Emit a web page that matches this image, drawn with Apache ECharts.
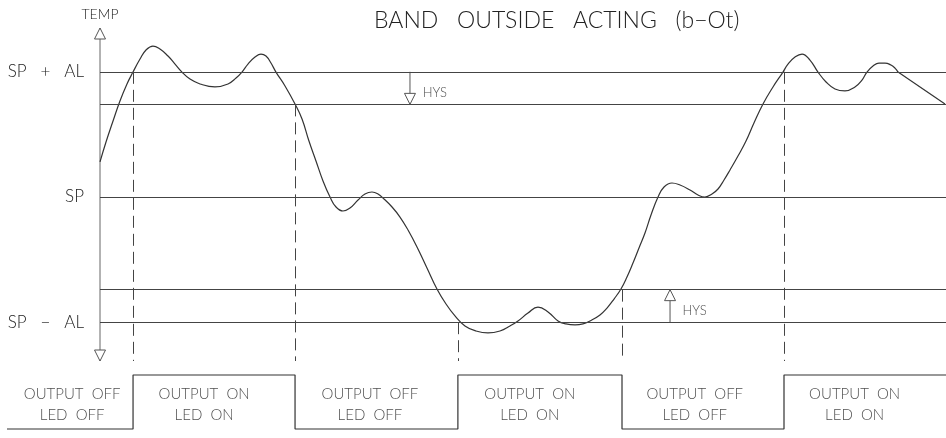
<!DOCTYPE html>
<html>
<head>
<meta charset="utf-8">
<script src="https://cdn.jsdelivr.net/npm/echarts@6/dist/echarts.min.js"></script>
<style>
  html, body { margin: 0; padding: 0; background: #fff; }
  #chart { width: 946px; height: 438px; }
</style>
</head>
<body>
<div id="chart"></div>
<script>
  // temperature scale: SP = 0, alarm band +-AL, hysteresis HYS
  const SP = 0
  const AL = 10
  const HYS = 2.6
  const levelLabels = ['SP   +   AL', 'SP', 'SP   −   AL']

  // temperature curve (time, temp)
  const curveTime = [0, 0.71, 1.54, 2.36, 3.19, 3.9, 4.73, 5.44, 6.26, 7.09, 8.04, 8.87, 9.69, 10.64, 11.82, 13.59,
    15.13, 16.08, 16.78, 17.49, 18.32, 19.03, 19.62, 20.21, 20.8, 21.87, 23.05, 23.88, 24.7, 25.53, 26.36, 27.19,
    27.9, 28.72, 29.55, 30.5, 31.32, 32.15, 32.86, 33.57, 34.52, 35.46, 36.41, 37.47, 38.65, 39.83, 40.9, 41.96,
    43.14, 44.44, 45.86, 47.28, 48.46, 49.41, 50.59, 51.77, 52.96, 54.14, 55.08, 56.15, 57.09, 57.92, 59.1, 59.93,
    60.76, 61.58, 62.29, 63.0, 63.71, 64.42, 65.13, 65.96, 66.67, 67.61, 68.56, 69.74, 70.69, 71.51, 72.34, 73.05,
    73.76, 74.47, 75.41, 76.36, 77.3, 78.37, 79.55, 80.73, 81.32, 82.15, 82.98, 83.92, 84.87, 85.82, 86.88, 88.06,
    89.24, 90.07, 90.66, 91.37, 92.08, 92.79, 93.5, 93.97, 94.33]
  const curveTemp = [2.8, 4.39, 6.07, 7.67, 9.03, 9.98, 11.02, 11.74, 12.06, 11.82, 11.26, 10.62, 9.98, 9.42, 9.03, 8.79,
    9.03, 9.5, 9.98, 10.62, 11.18, 11.42, 11.26, 10.7, 9.98, 8.87, 7.43, 6.23, 4.47, 2.88, 1.28, 0,
    -0.8, -1.12, -0.88, -0.24, 0.24, 0.4, 0.24, -0.16, -0.8, -1.6, -2.64, -3.99, -5.67, -7.35, -8.55, -9.5,
    -10.3, -10.7, -10.86, -10.7, -10.3, -9.9, -9.27, -8.79, -9.18, -9.9, -10.14, -10.22, -10.14, -9.9, -9.42, -8.87,
    -8.15, -7.35, -6.39, -5.27, -4.07, -2.88, -1.44, 0, 0.8, 1.12, 0.96, 0.56, 0.16, 0, 0.24, 0.64,
    1.36, 2.16, 3.27, 4.47, 5.91, 7.43, 8.79, 9.98, 10.62, 11.18, 11.42, 10.94, 9.98, 9.19, 8.63, 8.47,
    8.79, 9.34, 9.98, 10.46, 10.7, 10.7, 10.54, 10.3, 9.98]
  // straight tail at the right end
  const tailTime = [94.33, 99.88]
  const tailTemp = [9.98, 7.43]

  // output switching
  const switchTimes = [3.9, 23.05, 42.3, 61.7, 80.85]
  const switchLevels = [AL, AL - HYS, -AL, -AL + HYS, AL]
  const stateTimes = [-11, 3.9, 23.05, 42.3, 61.7, 80.85, 100]
  const stateValues = [0, 1, 0, 1, 0, 1, 1]
  const outputLabels = ['OUTPUT  OFF\nLED  OFF', 'OUTPUT  ON\nLED  ON', 'OUTPUT  OFF\nLED  OFF',
    'OUTPUT  ON\nLED  ON', 'OUTPUT  OFF\nLED  OFF', 'OUTPUT  ON\nLED  ON']
  const labelTimes = [-3.3, 12.3, 31.9, 50.8, 70.3, 89.2]

  // hysteresis markers
  const hysTimes = [36.64, 67.38]

  const FONT = 'Lato'
  const INK = '#222'
  const LINE = '#444'
  const yMin = -13.1
  const yMax = 13.5

  let myChart = echarts.init(document.getElementById('chart'), null, { renderer: 'canvas' })

  let tri = (coord, down) => ({
    coord: coord,
    symbolRotate: down ? 180 : 0,
    symbolOffset: [0, down ? -5.5 : 5.5]
  })

  let triStyle = {
    symbol: 'triangle',
    symbolSize: [11, 11],
    itemStyle: { color: '#fff', borderColor: '#555', borderWidth: 1 },
    label: { show: false },
    silent: true,
    animation: false
  }

  let option = {
    animation: false,
    title: {
      text: 'BAND   OUTSIDE   ACTING   (b−Ot)',
      left: 369,
      top: 4,
      textStyle: { fontFamily: FONT, fontWeight: 300, fontSize: 23, color: INK }
    },
    grid: [
      { left: 100, right: 0, top: 28, height: 333 },
      { left: 7, right: 0, top: 369.6, height: 64.8 }
    ],
    xAxis: [
      { gridIndex: 0, type: 'value', min: 0, max: 100, show: false },
      { gridIndex: 1, type: 'value', min: -11, max: 100, show: false }
    ],
    yAxis: [
      {
        gridIndex: 0,
        type: 'value',
        min: yMin,
        max: yMax,
        name: 'TEMP',
        nameLocation: 'end',
        nameGap: 7,
        nameTextStyle: { fontFamily: FONT, fontWeight: 300, fontSize: 14, color: INK, align: 'center' },
        axisLine: { show: false },
        axisTick: { show: false },
        splitLine: { show: false },
        axisLabel: {
          customValues: [AL, SP, -AL],
          margin: 16,
          fontFamily: FONT,
          fontWeight: 300,
          fontSize: 17,
          color: INK,
          formatter: (v) => v === AL ? levelLabels[0] : (v === SP ? levelLabels[1] : levelLabels[2])
        }
      },
      { gridIndex: 1, type: 'value', min: -0.1, max: 1.1, show: false }
    ],
    series: [
      {
        // vertical temperature axis with open arrow heads
        name: 'axis',
        type: 'line',
        xAxisIndex: 0,
        yAxisIndex: 0,
        clip: false,
        showSymbol: false,
        data: [[0, yMin], [0, yMax]],
        lineStyle: { color: '#666', width: 1 },
        markPoint: Object.assign({ data: [tri([0, yMax], false), tri([0, yMin], true)] }, triStyle),
        markLine: {
          silent: true,
          symbol: 'none',
          label: { show: false },
          lineStyle: { color: LINE, width: 1, type: 'solid' },
          data: [
            { yAxis: AL },
            { yAxis: AL - HYS },
            { yAxis: SP },
            { yAxis: -AL + HYS },
            { yAxis: -AL }
          ]
        }
      },
      {
        name: 'switch',
        type: 'line',
        xAxisIndex: 0,
        yAxisIndex: 0,
        clip: false,
        showSymbol: false,
        data: [],
        markLine: {
          silent: true,
          symbol: 'none',
          label: { show: false },
          lineStyle: { color: LINE, width: 1, type: [12, 6] },
          data: switchTimes.map((t, i) => [{ coord: [t, switchLevels[i]] }, { coord: [t, yMin] }])
        }
      },
      {
        name: 'hysDown',
        type: 'line',
        xAxisIndex: 0,
        yAxisIndex: 0,
        clip: false,
        showSymbol: false,
        data: [[hysTimes[0], AL], [hysTimes[0], AL - HYS]],
        lineStyle: { color: '#555', width: 1 },
        markPoint: Object.assign({ data: [tri([hysTimes[0], AL - HYS], true)] }, triStyle)
      },
      {
        name: 'hysUp',
        type: 'line',
        xAxisIndex: 0,
        yAxisIndex: 0,
        clip: false,
        showSymbol: false,
        data: [[hysTimes[1], -AL], [hysTimes[1], -AL + HYS]],
        lineStyle: { color: '#555', width: 1 },
        markPoint: Object.assign({ data: [tri([hysTimes[1], -AL + HYS], false)] }, triStyle)
      },
      {
        name: 'hysText',
        type: 'scatter',
        xAxisIndex: 0,
        yAxisIndex: 0,
        symbolSize: 1,
        itemStyle: { color: 'rgba(0,0,0,0)' },
        data: [[38.2, 8.3], [68.9, -9.1]],
        label: {
          show: true,
          position: [0, 0],
          align: 'left',
          verticalAlign: 'middle',
          formatter: 'HYS',
          fontFamily: FONT,
          fontWeight: 300,
          fontSize: 13,
          color: INK
        }
      },
      {
        name: 'temp',
        type: 'line',
        xAxisIndex: 0,
        yAxisIndex: 0,
        smooth: 0.45,
        showSymbol: false,
        clip: false,
        data: curveTime.map((t, i) => [t, curveTemp[i]]),
        lineStyle: { color: '#333', width: 1.2 }
      },
      {
        name: 'tail',
        type: 'line',
        xAxisIndex: 0,
        yAxisIndex: 0,
        showSymbol: false,
        clip: false,
        data: tailTime.map((t, i) => [t, tailTemp[i]]),
        lineStyle: { color: '#333', width: 1.2 }
      },
      {
        name: 'output',
        type: 'line',
        xAxisIndex: 1,
        yAxisIndex: 1,
        step: 'end',
        showSymbol: false,
        clip: false,
        data: stateTimes.map((t, i) => [t, stateValues[i]]),
        lineStyle: { color: '#333', width: 1.2 }
      },
      {
        name: 'outputText',
        type: 'scatter',
        xAxisIndex: 1,
        yAxisIndex: 1,
        symbolSize: 1,
        itemStyle: { color: 'rgba(0,0,0,0)' },
        data: labelTimes.map((t, i) => [t, 0.46, outputLabels[i]]),
        label: {
          show: true,
          position: 'inside',
          align: 'center',
          verticalAlign: 'middle',
          lineHeight: 21,
          formatter: (p) => p.data[2],
          fontFamily: FONT,
          fontWeight: 300,
          fontSize: 15,
          color: INK
        }
      }
    ]
  }

  myChart.setOption(option)
</script>
</body>
</html>
